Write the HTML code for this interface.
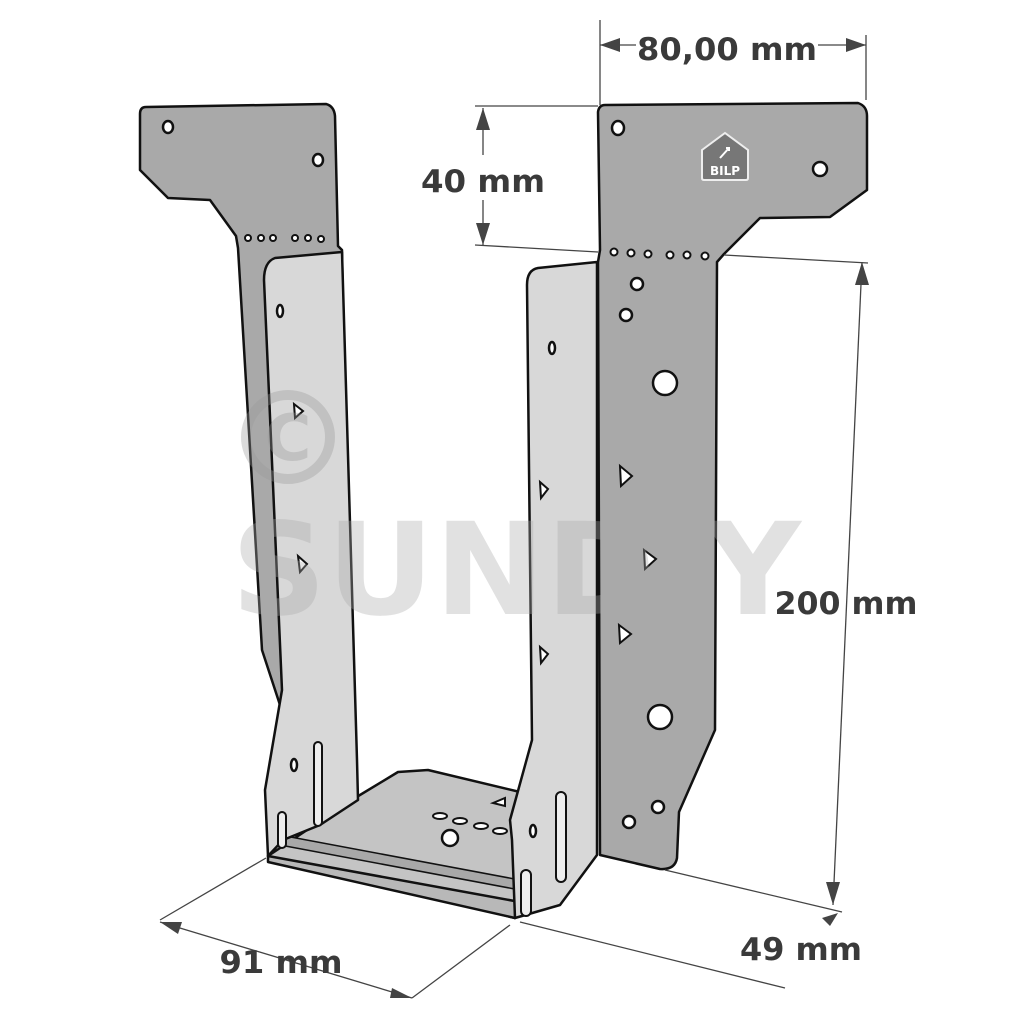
<!DOCTYPE html>
<html><head><meta charset="utf-8"><style>
html,body{margin:0;padding:0;background:#fff}
svg{display:block}
text{font-family:"DejaVu Sans","Liberation Sans",sans-serif;font-weight:bold;fill:#3a3a3a}
</style></head><body>
<svg width="1024" height="1024" viewBox="0 0 1024 1024" xmlns="http://www.w3.org/2000/svg">
<g stroke="#111" stroke-width="2.5" stroke-linejoin="round">
<path d="M146,107 L326,104 Q334,106 335,116 L338,246 L342,250 L350,770 L290,770 L280,705 L262,650 L238,248 L236,236 L210,200 L168,198 L140,170 L140,114 Q140,107 146,107 Z" fill="#a9a9a9"/>
<path d="M605,105 L858,103 Q867,106 867,116 L867,190 L830,217 L760,218 L724,254 L717,262 L715,730 L679,812 L677,858 Q675,870 660,869 L600,855 L598,262 L600,250 L598,112 Q599,105 605,105 Z" fill="#a9a9a9"/>
<path d="M355,798 L398,772 L428,770 L520,792 L515,918 L268,856 Z" fill="#c4c4c4"/>
<path d="M268,856 L520,902 L515,918 L268,862 Z" fill="#b8b8b8"/>
<path d="M280,835 L520,880 L520,890 L280,845 Z" fill="#a8a8a8" stroke-width="1.5"/>
<path d="M275,258 L342,252 L357,760 L358,800 L320,825 L283,840 L268,856 L265,790 L282,690 L264,280 Q264,262 275,258 Z" fill="#d8d8d8"/>
<path d="M538,268 L597,262 L597,855 L560,905 L515,918 L512,840 L510,820 L532,740 L527,285 Q527,270 538,268 Z" fill="#d8d8d8"/>
</g>
<g fill="#eee" stroke="#111" stroke-width="2">
<rect x="314" y="742" width="8" height="84" rx="4"/>
<rect x="278" y="812" width="8" height="36" rx="4"/>
<rect x="556" y="792" width="10" height="90" rx="5"/>
<rect x="521" y="870" width="10" height="46" rx="5"/>
</g>
<g fill="#fff" stroke="#111" stroke-width="2.5">
<ellipse cx="168" cy="127" rx="5" ry="6"/><ellipse cx="318" cy="160" rx="5" ry="6"/>
<ellipse cx="618" cy="128" rx="6" ry="7"/><ellipse cx="820" cy="169" rx="7" ry="7"/>
<ellipse cx="637" cy="284" rx="6" ry="6"/><ellipse cx="626" cy="315" rx="6" ry="6"/>
<circle cx="665" cy="383" r="12"/><circle cx="660" cy="717" r="12"/>
<ellipse cx="658" cy="807" rx="6" ry="6"/><ellipse cx="629" cy="822" rx="6" ry="6"/>
<circle cx="450" cy="838" r="8"/>
<ellipse cx="280" cy="311" rx="3" ry="6"/><ellipse cx="552" cy="348" rx="3" ry="6"/>
<ellipse cx="294" cy="765" rx="3" ry="6"/><ellipse cx="533" cy="831" rx="3" ry="6"/>
</g>
<g fill="#fff" stroke="#111" stroke-width="2">
<circle cx="248" cy="238" r="3"/><circle cx="261" cy="238" r="3"/><circle cx="273" cy="238" r="3"/><circle cx="295" cy="238" r="3"/><circle cx="308" cy="238" r="3"/><circle cx="321" cy="239" r="3"/>
<circle cx="614" cy="252" r="3.5"/><circle cx="631" cy="253" r="3.5"/><circle cx="648" cy="254" r="3.5"/><circle cx="670" cy="255" r="3.5"/><circle cx="687" cy="255" r="3.5"/><circle cx="705" cy="256" r="3.5"/>
<ellipse cx="440" cy="816" rx="7" ry="3"/><ellipse cx="460" cy="821" rx="7" ry="3"/><ellipse cx="481" cy="826" rx="7" ry="3"/><ellipse cx="500" cy="831" rx="7" ry="3"/>
<path d="M294,404 L303,411 L295,418 Z"/><path d="M298,556 L307,564 L300,572 Z"/>
<path d="M540,482 L548,489 L541,498 Z"/><path d="M540,647 L548,654 L541,663 Z"/>
<path d="M620,466 L632,476 L621,486 Z"/><path d="M644,550 L656,559 L645,569 Z"/><path d="M619,625 L631,634 L620,643 Z"/>
<path d="M493,803 L505,798 L505,806 Z"/>
</g>
<path d="M702,150 L725,133 L748,150 L748,178 Q748,180 746,180 L704,180 Q702,180 702,178 Z" fill="#777" stroke="#eee" stroke-width="2"/>
<text x="725" y="175" font-size="12" text-anchor="middle" style="fill:#fff">BILP</text>
<path d="M720,158 L729,148 M726,148 L729,148 L729,151" stroke="#fff" stroke-width="2" fill="none"/>
<g opacity="0.35">
<circle cx="288" cy="437" r="42" fill="none" stroke="#999" stroke-width="10"/>
<text x="288" y="460" font-size="64" text-anchor="middle" style="fill:#999">C</text>
<text x="516" y="614" font-size="128" text-anchor="middle" textLength="570" lengthAdjust="spacingAndGlyphs" style="fill:#aaa">SUNDIY</text>
</g>
<g stroke="#444" stroke-width="1.3" fill="none">
<line x1="600" y1="20" x2="600" y2="105"/><line x1="866" y1="35" x2="866" y2="100"/>
<line x1="600" y1="45" x2="866" y2="45"/>
<line x1="475" y1="106" x2="598" y2="106"/><line x1="475" y1="245" x2="598" y2="252"/>
<line x1="483" y1="108" x2="483" y2="155"/><line x1="483" y1="200" x2="483" y2="245"/>
<line x1="724" y1="255" x2="868" y2="263"/><line x1="665" y1="870" x2="842" y2="912"/>
<line x1="862" y1="262" x2="833" y2="905"/>
<line x1="160" y1="920" x2="266" y2="858"/><line x1="160" y1="922" x2="412" y2="998"/>
<line x1="412" y1="998" x2="510" y2="925"/>
<line x1="520" y1="922" x2="785" y2="988"/>
</g>
<g fill="#444">
<path d="M600,45 L620,38 L620,52 Z"/><path d="M866,45 L846,38 L846,52 Z"/>
<path d="M483,108 L476,130 L490,130 Z"/><path d="M483,245 L476,223 L490,223 Z"/>
<path d="M862,262 L855,285 L869,285 Z"/><path d="M833,905 L826,882 L840,882 Z"/>
<path d="M160,922 L182,922 L178,934 Z"/><path d="M412,998 L392,988 L390,998 Z"/>
<path d="M838,913 L822,918 L830,926 Z"/>
</g>
<g style="fill:#fff"><rect x="636" y="30" width="182" height="32" fill="#fff"/></g>
<text x="727" y="60" font-size="31" text-anchor="middle" textLength="180" lengthAdjust="spacingAndGlyphs">80,00 mm</text>
<text x="483" y="192" font-size="31" text-anchor="middle" textLength="124" lengthAdjust="spacingAndGlyphs">40 mm</text>
<text x="846" y="614" font-size="31" text-anchor="middle" textLength="143" lengthAdjust="spacingAndGlyphs">200 mm</text>
<text x="281" y="973" font-size="31" text-anchor="middle" textLength="123" lengthAdjust="spacingAndGlyphs">91 mm</text>
<text x="801" y="960" font-size="31" text-anchor="middle" textLength="122" lengthAdjust="spacingAndGlyphs">49 mm</text>
</svg>
</body></html>
